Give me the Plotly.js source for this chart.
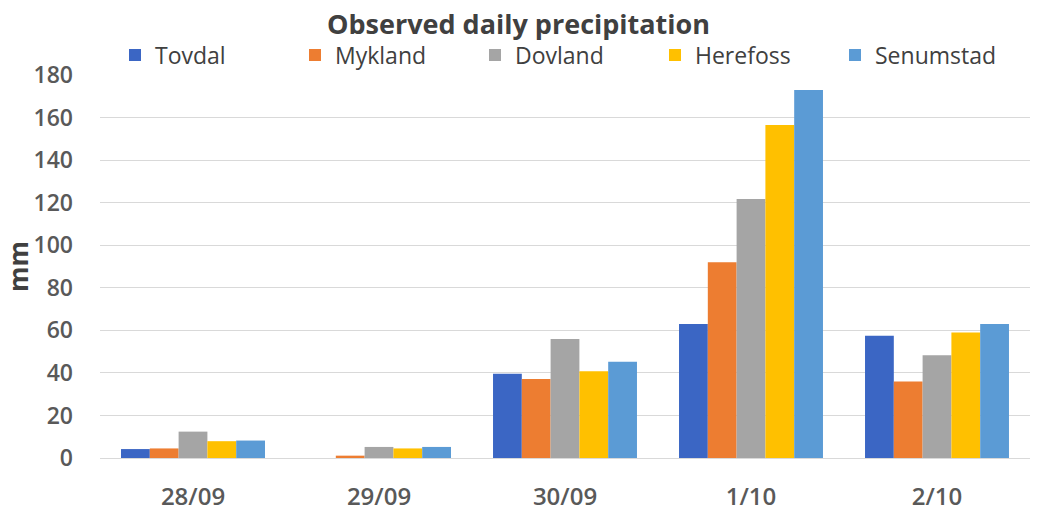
<!DOCTYPE html>
<html><head><meta charset="utf-8">
<script src="https://cdn.plot.ly/plotly-3.0.1.min.js"></script>
<style>html,body{margin:0;padding:0;background:#fff;}#chart{width:1037px;height:513px;}</style>
</head><body><div id="chart"></div>
<script>
var categories = ["28/09", "29/09", "30/09", "1/10", "2/10"];
var tovdal    = [4.2, 0,   39.6, 63,    57.5];
var mykland   = [4.5, 1.1, 37.1, 92,    36];
var dovland   = [12.4, 5.2, 55.9, 121.7, 48.3];
var herefoss  = [7.9, 4.5, 40.8, 156.5, 59];
var senumstad = [8.2, 5.2, 45.2, 173,   63];
var yTicks = [0, 20, 40, 60, 80, 100, 120, 140, 160, 180];

var names = ["Tovdal", "Mykland", "Dovland", "Herefoss", "Senumstad"];
var series = [tovdal, mykland, dovland, herefoss, senumstad];
var colors = ["#3B66C4", "#ED7D31", "#A5A5A5", "#FFC000", "#5B9BD5"];

var data = series.map(function(s, i){
  return {type:"bar", name:names[i], x:categories, y:s, marker:{color:colors[i]}, hoverinfo:"y"};
});

var layout = {
  width:1037, height:513,
  margin:{l:100, r:7, t:75, b:55},
  paper_bgcolor:"#fff", plot_bgcolor:"#fff",
  font:{family:"Open Sans, Noto Sans, sans-serif", color:"#404040"},
  title:{text:"<b>Observed daily precipitation</b>", x:0.5, xanchor:"center", y:0.953, yanchor:"middle",
         font:{size:27, color:"#404040", family:"Open Sans, sans-serif"}},
  barmode:"group", bargap:0.226, bargroupgap:0,
  showlegend:true,
  legend:{orientation:"h", x:0.5, xanchor:"center", y:1.052, yanchor:"middle",
          font:{size:23, color:"#404040"}, itemwidth:30, traceorder:"normal",
          entrywidth:135, entrywidthmode:"pixels"},
  xaxis:{type:"category", tickfont:{size:24, color:"#595959", weight:600}, showline:true, linecolor:"#d9d9d9", linewidth:1,
         ticks:"", showgrid:false, ticklabelstandoff:17},
  yaxis:{range:[0,180], tickvals:yTicks, ticktext:yTicks.map(String), tickfont:{size:23, color:"#595959", weight:600},
         showgrid:true, gridcolor:"#d9d9d9", gridwidth:1, zeroline:false, showline:false, ticks:"",
         ticklabelstandoff:26,
         title:{text:"<b>mm</b>", font:{size:26, color:"#404040"}, standoff:2}}
};
Plotly.newPlot("chart", data, layout, {displayModeBar:false, staticPlot:true});
</script></body></html>
